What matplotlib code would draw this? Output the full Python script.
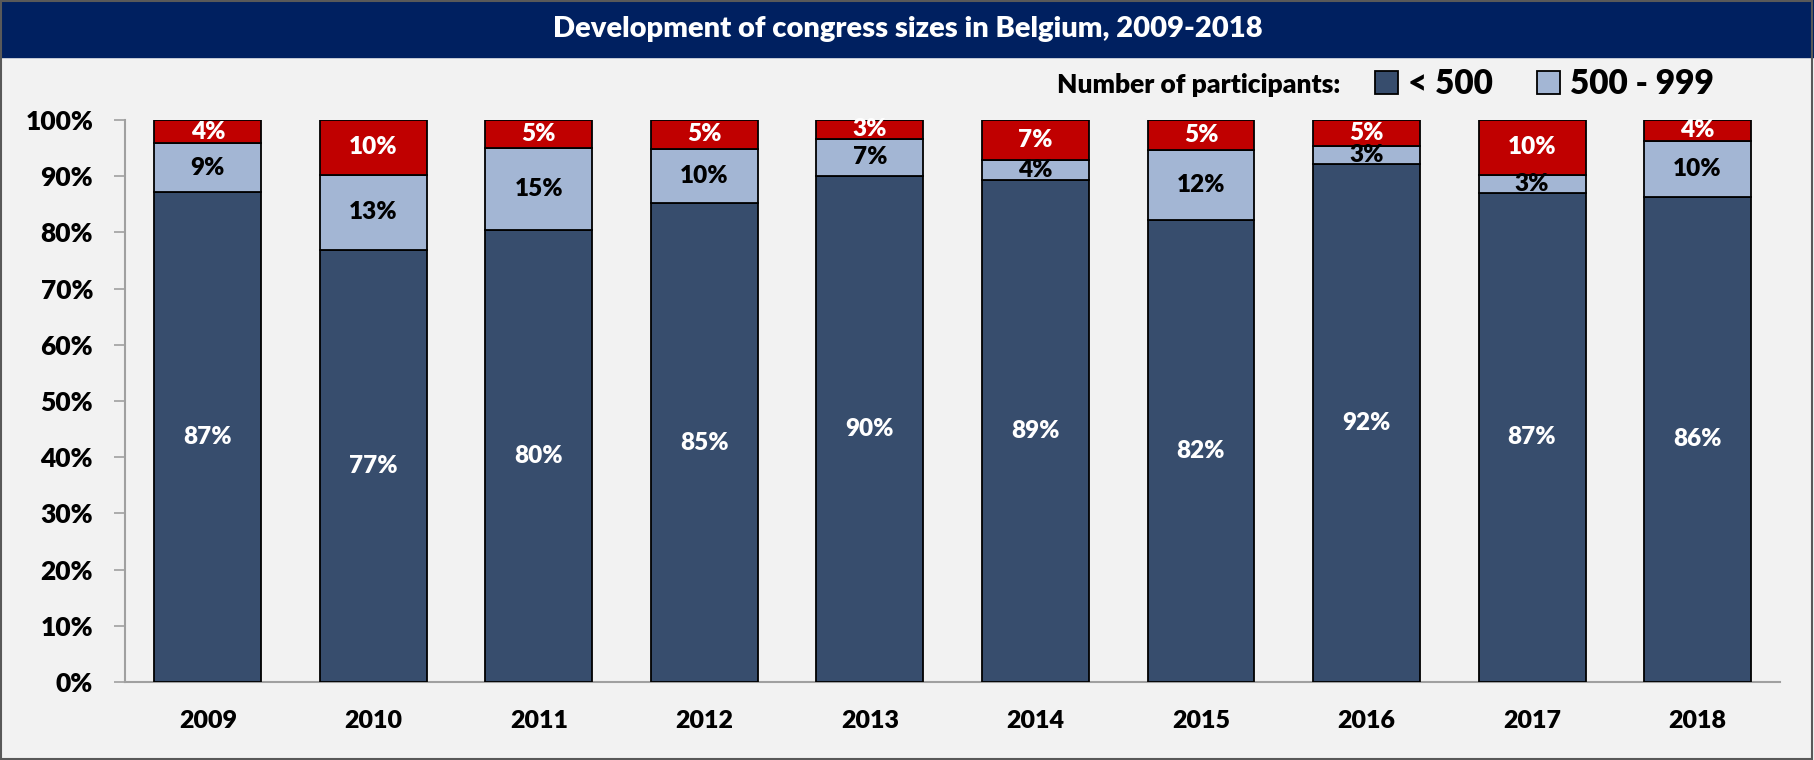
import matplotlib
matplotlib.use('Agg')
import matplotlib.pyplot as plt
from matplotlib.patches import Rectangle
import numpy as np

years = ['2009', '2010', '2011', '2012', '2013', '2014', '2015', '2016', '2017', '2018']
under_500 = [87.2, 76.9, 80.4, 85.2, 90.1, 89.3, 82.2, 92.2, 87.1, 86.4]
from_500_999 = [8.7, 13.4, 14.6, 9.7, 6.6, 3.6, 12.4, 3.2, 3.2, 9.9]
over_1000 = [4.1, 9.7, 5.0, 5.1, 3.3, 7.1, 5.4, 4.6, 9.7, 3.7]
y_ticks = [0, 10, 20, 30, 40, 50, 60, 70, 80, 90, 100]

DARK = '#374D6D'
LIGHT = '#A3B6D4'
RED = '#C00000'
NAVY = '#002060'
BG = '#F2F2F2'


def main():
    plt.rcParams['font.family'] = ['Lato', 'DejaVu Sans']
    plt.rcParams['font.weight'] = 'heavy'
    fig = plt.figure(figsize=(18.15, 7.6), dpi=100)
    fig.patch.set_facecolor(BG)
    ax = fig.add_axes([0.0689, 0.1026, 0.912, 0.7394])
    ax.set_facecolor(BG)

    x = np.arange(len(years))
    w = 0.646
    series = [(under_500, DARK, 'white', '< 500'),
              (from_500_999, LIGHT, 'black', '500 - 999'),
              (over_1000, RED, 'white', '1000+')]
    bottom = np.zeros(len(years))
    handles = []
    for vals, col, tcol, lab in series:
        vals = np.array(vals)
        bars = ax.bar(x, vals, w, bottom=bottom, color=col,
                      edgecolor='black', linewidth=1.3, label=lab, zorder=2)
        handles.append(bars)
        for xi, b, v in zip(x, bottom, vals):
            ax.text(xi, b + v / 2, '{:.0f}%'.format(v), ha='center',
                    va='center', color=tcol, fontsize=17.5, fontweight='heavy',
                    zorder=3)
        bottom = bottom + vals

    ax.set_xlim(-0.5, len(years) - 0.5)
    ax.set_ylim(0, 100)
    ax.set_yticks(y_ticks)
    ax.set_yticklabels(['{}%'.format(t) for t in y_ticks])
    ax.set_xticks(x)
    ax.set_xticklabels(years)
    ax.tick_params(axis='y', length=8, width=1.2, color='#A0A0A0',
                   labelsize=19, pad=15)
    ax.tick_params(axis='x', length=0, labelsize=18, pad=20)
    for s in ['top', 'right']:
        ax.spines[s].set_visible(False)
    for s in ['left', 'bottom']:
        ax.spines[s].set_color('#A0A0A0')
        ax.spines[s].set_linewidth(1.5)
        ax.spines[s].set_zorder(1)

    # title bar
    fig.patches.append(Rectangle((0, 1 - 57 / 760.), 1, 57 / 760.,
                                 transform=fig.transFigure, color=NAVY,
                                 zorder=0))
    fig.text(0.5, 1 - 29 / 760., 'Development of congress sizes in Belgium, 2009-2018',
             ha='center', va='center', color='white', fontsize=21,
             fontweight='heavy')
    fig.patches.append(Rectangle((0.0005, 0.001), 0.998, 0.998,
                                 transform=fig.transFigure, fill=False,
                                 edgecolor='#595959', linewidth=1.5,
                                 zorder=5))

    fig.text(1340 / 1815., 1 - 85 / 760., 'Number of participants:',
             ha='right', va='center', fontsize=19, fontweight='heavy')
    fig.legend(handles[:2], ['< 500', '500 - 999'], loc='center left',
               bbox_to_anchor=(1375 / 1815., 1 - 84 / 760.), ncol=2,
               frameon=False, fontsize=24, handlelength=0.7,
               handleheight=0.7, handletextpad=0.3, columnspacing=1.3,
               borderpad=0, borderaxespad=0)

    plt.savefig('out.png', dpi=100, facecolor=BG)


if __name__ == '__main__':
    main()
